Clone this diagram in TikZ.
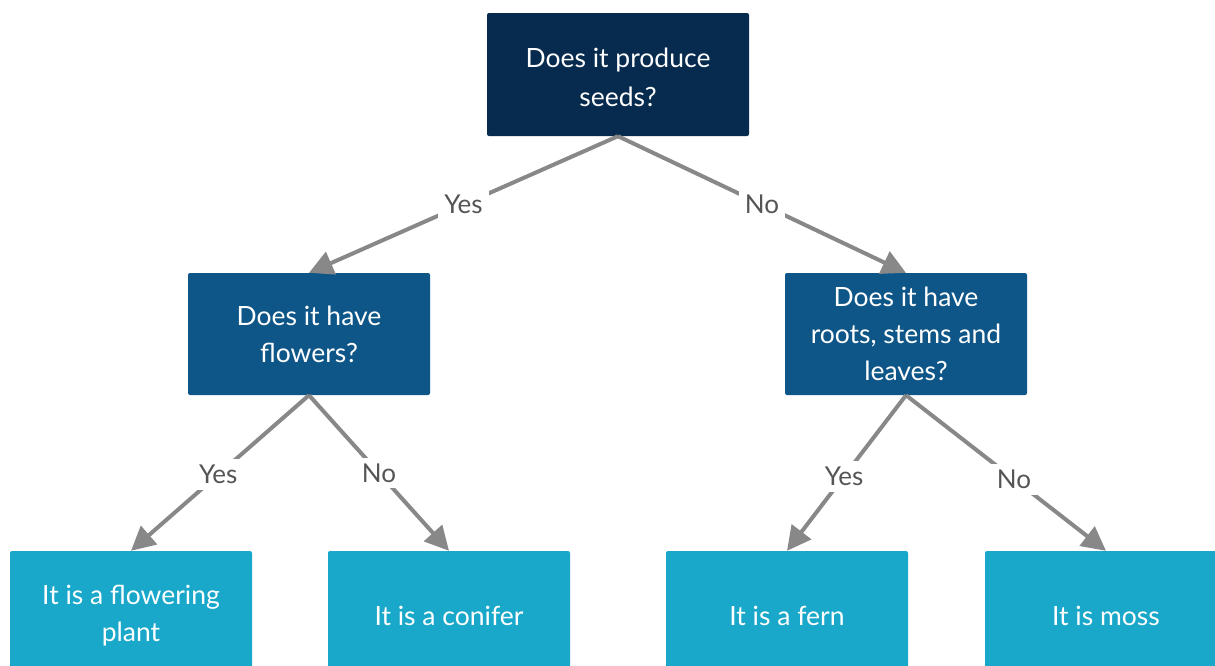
\documentclass[tikz,border=0pt]{standalone}
\usepackage{fontspec}
\setmainfont{Lato}
\usetikzlibrary{arrows.meta}
\definecolor{topc}{HTML}{072B4E}
\definecolor{midc}{HTML}{0F5688}
\definecolor{botc}{HTML}{19A8CA}
\definecolor{linec}{HTML}{888888}
\definecolor{lblc}{HTML}{555555}
\tikzset{
  box/.style={rectangle, rounded corners=2pt, inner sep=0pt},
  txt/.style={text=white, align=center, inner sep=0pt,
    font=\fontsize{26.5}{37}\selectfont},
  topbox/.style={box, fill=topc, minimum width=262pt, minimum height=123pt},
  midbox/.style={box, fill=midc, minimum width=242pt, minimum height=122pt},
  botbox/.style={box, fill=botc, minimum width=242pt, minimum height=122pt},
  conn/.style={draw=linec, line width=4pt, -{Triangle[length=24pt,width=24pt]}},
  lbl/.style={fill=white, text=lblc, font=\fontsize{26}{30}\selectfont, inner sep=6pt}
}
\begin{document}
\begin{tikzpicture}[x=1pt,y=-1pt]
\useasboundingbox (0,0) rectangle (1215,665);
\node[topbox] (top) at (618,74.5) {};
\node[midbox] (ml) at (309,334) {};
\node[midbox] (mr) at (906,334) {};
\node[botbox] (b1) at (131,612) {};
\node[botbox] (b2) at (449,612) {};
\node[botbox] (b3) at (787,612) {};
\node[botbox] (b4) at (1106,612) {};
\node[txt, font=\fontsize{26.5}{39}\selectfont] (topt) at ([yshift=-3pt]top.center) {Does it produce\\seeds?};
\node[txt] (mlt) at (ml.center) {Does it have\\flowers?};
\node[txt] (mrt) at (mr.center) {Does it have\\roots, stems and\\leaves?};
\node[txt] (b1t) at ([yshift=-3.5pt]b1.center) {It is a flowering\\plant};
\node[txt] (b2t) at ([yshift=-3.5pt]b2.center) {It is a conifer};
\node[txt] (b3t) at ([yshift=-3.5pt]b3.center) {It is a fern};
\node[txt] (b4t) at ([yshift=-3.5pt]b4.center) {It is moss};
\draw[conn] (top.south) -- node[lbl, pos=0.5] {Yes} (ml.north);
\draw[conn] (top.south) -- node[lbl, pos=0.5] {No} (mr.north);
\draw[conn] (ml.south) -- node[lbl, pos=0.51] {Yes} (b1.north);
\draw[conn] (ml.south) -- node[lbl, pos=0.5] {No} (b2.north);
\draw[conn] (mr.south) -- node[lbl, pos=0.52] {Yes} (b3.north);
\draw[conn] (mr.south) -- node[lbl, pos=0.54] {No} (b4.north);
\end{tikzpicture}
\end{document}
